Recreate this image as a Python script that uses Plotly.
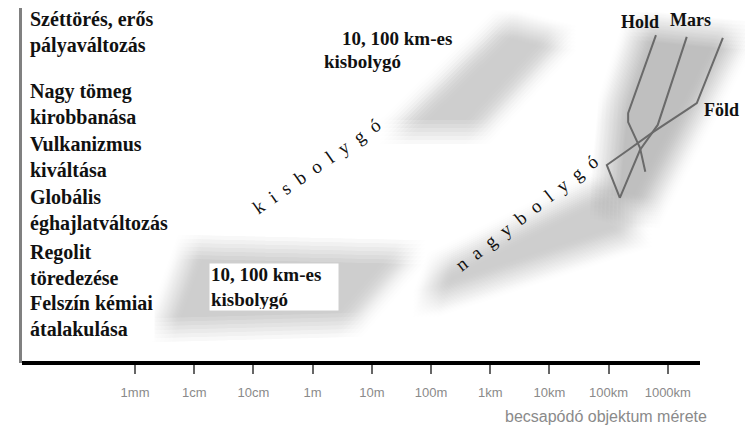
import plotly.graph_objects as go

# ---------------- data ----------------
tick_sizes_m = [1e-3, 1e-2, 1e-1, 1, 10, 100, 1e3, 1e4, 1e5, 1e6]
tick_labels = ["1mm", "1cm", "10cm", "1m", "10m", "100m", "1km", "10km", "100km", "1000km"]

effect_labels = [
    "Széttörés, erős<br>pályaváltozás",
    "Nagy tömeg<br>kirobbanása",
    "Vulkanizmus<br>kiváltása",
    "Globális<br>éghajlatváltozás",
    "Regolit<br>töredezése",
    "Felszín kémiai<br>átalakulása",
]
effect_levels = [9.22, 7.24, 5.75, 4.25, 2.74, 1.31]

# log10(impactor size in m) vs effect level
hold_logsize = [5.80, 5.33, 5.33, 5.53, 5.62]
hold_effect = [9.16, 6.98, 6.73, 6.01, 5.34]
mars_logsize = [6.32, 5.83, 5.53, 5.19]
mars_effect = [9.11, 6.65, 5.95, 4.61]
fold_logsize = [6.93, 6.49, 6.32, 5.75, 5.33, 4.97, 5.19]
fold_effect = [9.08, 7.26, 7.07, 6.45, 5.95, 5.53, 4.61]

# shaded domains (log10 size, effect level)
kis_upper_logsize = [1.34, 2.79, 4.26, 3.25]
kis_upper_effect = [6.45, 6.45, 9.08, 9.53]
kis_lower_logsize = [-2.58, -2.07, 1.70, 0.63]
kis_lower_effect = [0.92, 3.24, 3.10, 1.06]
nagy_logsize = [1.90, 2.15, 4.86, 5.53]
nagy_effect = [1.62, 2.74, 4.97, 3.58]
planet_logsize = [4.91, 5.62, 7.22, 5.53, 5.06]
planet_effect = [4.41, 4.13, 9.16, 9.44, 7.07]

# ---------------- layout constants ----------------
# page body has an 8px margin, so the figure is sized to fit the window
OFF = 8
W, H = 753 - OFF, 430 - OFF
BOX_L, BOX_R, BOX_T, BOX_B = 22, 745, 8, 363   # plot box in window pixels
ML, MR, MT, MB = BOX_L - OFF, (W + OFF) - BOX_R, BOX_T - OFF, (H + OFF) - BOX_B
X_RANGE = [-4.909, 7.304]
PW, PH = BOX_R - BOX_L, BOX_B - BOX_T
PX_DEC = PW / (X_RANGE[1] - X_RANGE[0])
PX_Y = 35.8
Y_RANGE = [0, PH / PX_Y]


def pap(px, py):
    return (px - BOX_L) / PW, (BOX_B - py) / PH


SERIF = "Liberation Serif, Times New Roman, serif"
SANS = "Liberation Sans, Arial, sans-serif"

fig = go.Figure()


def blurred(xs, ys, rgb, alpha, radius=12, step=4):
    offs = list(range(-radius, radius + 1, step))
    for dx in offs:
        for dy in offs:
            xx = [10 ** (v + dx / PX_DEC) for v in xs] + [10 ** (xs[0] + dx / PX_DEC)]
            yy = [v + dy / PX_Y for v in ys] + [ys[0] + dy / PX_Y]
            fig.add_trace(go.Scatter(
                x=xx, y=yy, mode="none", fill="toself",
                fillcolor=f"rgba({rgb},{alpha})", hoverinfo="skip", showlegend=False))


blurred(planet_logsize, planet_effect, "90,90,90", 0.003, radius=14)
blurred(kis_upper_logsize, kis_upper_effect, "70,70,70", 0.0095)
blurred(kis_lower_logsize, kis_lower_effect, "70,70,70", 0.0095)
blurred(nagy_logsize, nagy_effect, "70,70,70", 0.0085)

for xs, ys in [(hold_logsize, hold_effect), (mars_logsize, mars_effect), (fold_logsize, fold_effect)]:
    fig.add_trace(go.Scatter(
        x=[10 ** v for v in xs], y=ys, mode="lines",
        line=dict(color="#6a6a6a", width=2), hoverinfo="skip", showlegend=False))

ann = []
for lab, lev in zip(effect_labels, effect_levels):
    ann.append(dict(text=lab, xref="paper", yref="y", x=pap(28, 0)[0], y=lev,
                    xanchor="left", yanchor="middle", align="left", showarrow=False,
                    bgcolor="white", borderpad=1,
                    font=dict(family=SERIF, size=20, color="#111111", weight="bold")))


def txt(text, px, py, size=19, anchor="left", bold=True, angle=0, bg=None, color="#111111", family=SERIF):
    x, y = pap(px, py)
    d = dict(text=text, xref="paper", yref="paper", x=x, y=y, xanchor=anchor, yanchor="middle",
             showarrow=False, textangle=angle,
             font=dict(family=family, size=size, color=color, weight="bold" if bold else "normal"))
    if bg:
        d["bgcolor"] = bg
    ann.append(d)


txt("10, 100 km-es", 340, 39)
txt("kisbolygó", 322, 61)
# lower label box
x0, y0 = pap(209, 263)
ann.append(dict(text="10, 100 km-es<br>kisbolygó", xref="paper", yref="paper", x=x0, y=y0,
                xanchor="left", yanchor="top", align="left", showarrow=False,
                bgcolor="white", width=126, height=44, borderpad=1,
                font=dict(family=SERIF, size=19, color="#111111", weight="bold")))
txt("Hold", 640, 22, size=18, anchor="center")
txt("Mars", 690, 20, size=18, anchor="center")
txt("Föld", 721, 110, size=18, anchor="center")
sp = "\u2002"
txt(sp.join("kisbolygó"), 316, 166, size=19, anchor="center", bold=False, angle=-35)
txt(sp.join("nagybolygó"), 526, 213, size=19, anchor="center", bold=False, angle=-38)
txt("becsapódó objektum mérete", 606, 416, size=16, anchor="center", bold=False,
    color="#8a8a8a", family=SANS)

shapes = [dict(type="line", xref="paper", yref="paper", x0=0, x1=pap(700, 0)[0], y0=0, y1=0,
               line=dict(color="black", width=4))]

fig.update_layout(
    width=W, height=H, margin=dict(l=ML, r=MR, t=MT, b=MB, pad=0),
    plot_bgcolor="white", paper_bgcolor="white",
    annotations=ann, shapes=shapes, showlegend=False,
    xaxis=dict(type="log", range=X_RANGE, tickvals=tick_sizes_m, ticktext=tick_labels,
               ticks="outside", ticklen=10, tickwidth=2, tickcolor="#666666",
               ticklabelstandoff=7, showgrid=False, zeroline=False, showline=False,
               tickfont=dict(family=SANS, size=13, color="#8a8a8a")),
    yaxis=dict(range=Y_RANGE, showgrid=False, zeroline=False, showticklabels=False, ticks="",
               showline=True, linecolor="#808080", linewidth=3),
)

fig.write_html("out.html")
